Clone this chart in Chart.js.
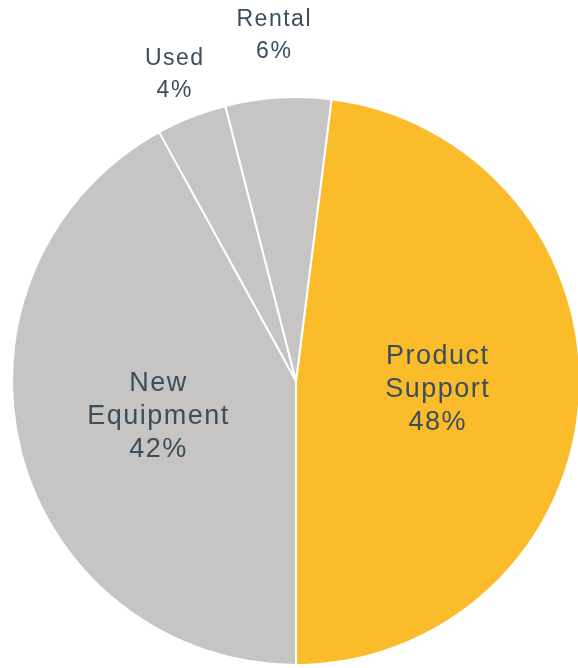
<!DOCTYPE html>
<html>
<head>
<meta charset="utf-8">
<script src="https://cdn.jsdelivr.net/npm/chart.js@4"></script>
<style>
  html, body { margin: 0; padding: 0; background: #fff; overflow: hidden; }
  #wrap { position: absolute; left: 0; top: 0; width: 592px; height: 668px; }
</style>
</head>
<body>
<div id="wrap"><canvas id="myChart"></canvas></div>
<script>
var categories = ['Product Support', 'New Equipment', 'Used', 'Rental'];
var shares = [48, 42, 4, 6];
var sliceColors = ['#FBBC2C', '#C6C5C4', '#C6C5C4', '#C6C5C4'];

// label placement: fraction of radius from centre, font size
var labelPos = [
  { r: 0.50, size: 27, line: 33 },
  { r: 0.50, size: 27, line: 33 },
  { r: 1.16, size: 23, line: 32 },
  { r: 1.22, size: 23, line: 32 }
];

var sliceLabels = {
  id: 'sliceLabels',
  afterDatasetsDraw: function (chart) {
    var c = chart.ctx;
    var arcs = chart.getDatasetMeta(0).data;
    c.save();
    c.fillStyle = '#3B4E5C';
    c.textAlign = 'center';
    c.textBaseline = 'middle';
    c.letterSpacing = '1.5px';
    arcs.forEach(function (arc, i) {
      var p = arc.getProps(['x', 'y', 'startAngle', 'endAngle', 'outerRadius'], true);
      var mid = (p.startAngle + p.endAngle) / 2;
      var rr = p.outerRadius * labelPos[i].r;
      var cx = p.x + Math.cos(mid) * rr;
      var cy = p.y + Math.sin(mid) * rr;
      var lines = categories[i].split(' ').concat([shares[i] + '%']);
      c.font = labelPos[i].size + 'px "Liberation Sans", Arial, sans-serif';
      var lh = labelPos[i].line;
      var top = cy - (lines.length - 1) * lh / 2;
      lines.forEach(function (t, k) {
        c.fillText(t, cx, top + k * lh);
      });
    });
    c.restore();
  }
};

var ctx = document.getElementById('myChart').getContext('2d');
var myChart = new Chart(ctx, {
  type: 'pie',
  data: {
    labels: categories,
    datasets: [{
      data: shares,
      backgroundColor: sliceColors,
      borderColor: '#ffffff',
      borderWidth: 2
    }]
  },
  options: {
    responsive: true,
    maintainAspectRatio: false,
    animation: false,
    rotation: 7.2,
    layout: { padding: { top: 96, bottom: 2, left: 11, right: 11 } },
    plugins: {
      legend: { display: false },
      tooltip: { enabled: false }
    }
  },
  plugins: [sliceLabels]
});
</script>
</body>
</html>
